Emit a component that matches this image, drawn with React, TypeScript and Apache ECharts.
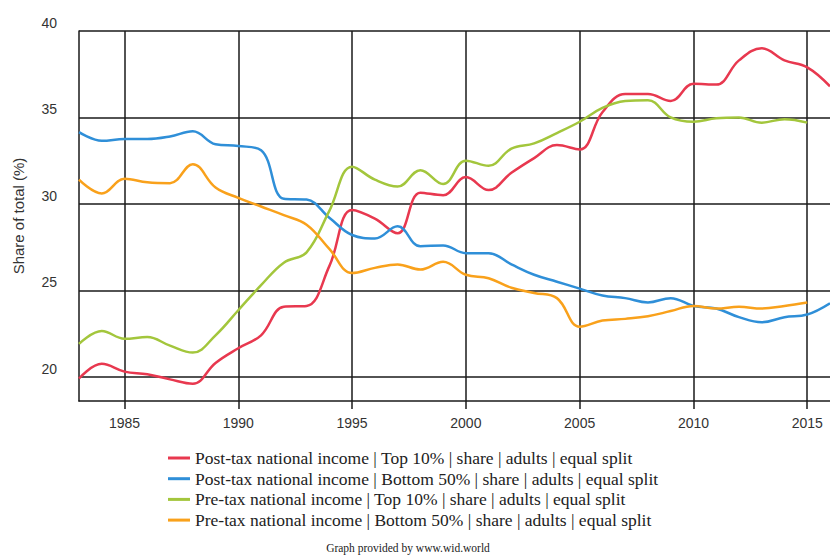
import React, { useEffect, useRef } from "react";
import * as echarts from "echarts";

const years: string[] = [
  "1983","1984","1985","1986","1987","1988","1989","1990","1991","1992","1993","1994",
  "1995","1996","1997","1998","1999","2000","2001","2002","2003","2004","2005","2006",
  "2007","2008","2009","2010","2011","2012","2013","2014","2015","2016",
];

const postTaxTop10: number[] = [
  19.9, 20.75, 20.3, 20.15, 19.85, 19.6, 20.8, 21.65, 22.4, 24.05, 24.1, 26.4,
  29.65, 29.15, 28.3, 30.65, 30.5, 31.55, 30.8, 31.8, 32.65, 33.4, 33.15, 35.3,
  36.35, 36.35, 35.95, 36.95, 36.9, 38.3, 39.0, 38.3, 37.9, 36.8,
];

const postTaxBottom50: number[] = [
  34.15, 33.65, 33.75, 33.75, 33.9, 34.2, 33.45, 33.35, 33.1, 30.3, 30.25, 29.2,
  28.2, 28.0, 28.7, 27.55, 27.6, 27.15, 27.15, 26.5, 25.9, 25.5, 25.1, 24.7,
  24.55, 24.3, 24.55, 24.1, 23.95, 23.45, 23.15, 23.45, 23.6, 24.25,
];

const preTaxTop10: (number | null)[] = [
  21.9, 22.65, 22.2, 22.3, 21.8, 21.4, 22.4, 23.85, 25.3, 26.6, 27.2, 29.6,
  32.15, 31.4, 31.0, 31.95, 31.15, 32.5, 32.2, 33.2, 33.5, 34.1, 34.75, 35.55,
  35.95, 36.0, 35.0, 34.75, 34.95, 35.0, 34.7, 34.9, 34.7, null,
];

const preTaxBottom50: (number | null)[] = [
  31.4, 30.6, 31.45, 31.25, 31.2, 32.3, 30.95, 30.35, 29.85, 29.35, 28.8, 27.4,
  26.0, 26.3, 26.5, 26.2, 26.65, 25.9, 25.7, 25.15, 24.85, 24.55, 22.9, 23.25,
  23.35, 23.5, 23.8, 24.1, 23.95, 24.05, 23.95, 24.1, 24.3, null,
];

const yTicks: number[] = [20, 25, 30, 35, 40];

const seriesNames: string[] = [
  "Post-tax national income | Top 10% | share | adults | equal split",
  "Post-tax national income | Bottom 50% | share | adults | equal split",
  "Pre-tax national income | Top 10% | share | adults | equal split",
  "Pre-tax national income | Bottom 50% | share | adults | equal split",
];

const colors: string[] = ["#e8384f", "#2f8fd8", "#a3c63c", "#f9a11b"];

export default function App() {
  const ref = useRef<HTMLDivElement>(null);
  useEffect(() => {
    document.body.style.margin = "0";
    if (!ref.current) return;
    const chart = echarts.init(ref.current, null, { renderer: "svg" });
    const dataSets = [postTaxTop10, postTaxBottom50, preTaxTop10, preTaxBottom50];
    const every5 = (_i: number, v: string) => Number(v) % 5 === 0;
    chart.setOption({
      animation: false,
      color: colors,
      grid: { left: 79, right: 0, top: 31, bottom: 154, containLabel: false, outerBoundsMode: "none" },
      xAxis: {
        type: "category",
        data: years,
        boundaryGap: false,
        axisLine: { show: true, lineStyle: { color: "#1a1a1a", width: 1.5 } },
        axisTick: { show: true, interval: every5, length: 8, lineStyle: { color: "#1a1a1a", width: 1.5 } },
        axisLabel: {
          interval: every5,
          margin: 15,
          fontFamily: "Liberation Sans, Arial, sans-serif",
          fontSize: 14,
          color: "#333",
        },
        splitLine: { show: true, interval: every5, lineStyle: { color: "#1a1a1a", width: 1.5 } },
      },
      yAxis: {
        type: "value",
        min: 18.6,
        max: 40,
        name: "Share of total (%)",
        nameLocation: "middle",
        nameRotate: 90,
        nameGap: 53,
        nameTextStyle: { fontFamily: "Liberation Sans, Arial, sans-serif", fontSize: 15, color: "#333" },
        axisLine: { show: true, lineStyle: { color: "#1a1a1a", width: 1.5 } },
        axisTick: { show: false, customValues: yTicks },
        axisLabel: {
          customValues: yTicks,
          margin: 22,
          verticalAlign: "bottom",
          padding: [0, 0, 1, 0],
          fontFamily: "Liberation Sans, Arial, sans-serif",
          fontSize: 14,
          color: "#333",
        },
        splitLine: { show: true, lineStyle: { color: "#1a1a1a", width: 1.5 } },
      },
      legend: {
        orient: "vertical",
        left: 163,
        top: 444,
        padding: 5,
        itemWidth: 22,
        itemHeight: 3,
        itemGap: 2.7,
        icon: "rect",
        textStyle: {
          fontFamily: "Liberation Serif, Times New Roman, serif",
          fontSize: 17.5,
          lineHeight: 18,
          color: "#222",
        },
        data: seriesNames,
      },
      graphic: [
        {
          type: "text",
          x: 408,
          y: 548,
          style: {
            text: "Graph provided by www.wid.world",
            font: "11.5px 'Liberation Serif', serif",
            fill: "#222",
            align: "center",
            verticalAlign: "middle",
          },
        },
      ],
      series: dataSets.map((d, i) => ({
        name: seriesNames[i],
        type: "line",
        data: d,
        smooth: 0.4,
        showSymbol: false,
        lineStyle: { width: 2.5, color: colors[i] },
        itemStyle: { color: colors[i] },
      })),
    });
    return () => chart.dispose();
  }, []);
  return <div ref={ref} style={{ width: 830, height: 555 }} />;
}
